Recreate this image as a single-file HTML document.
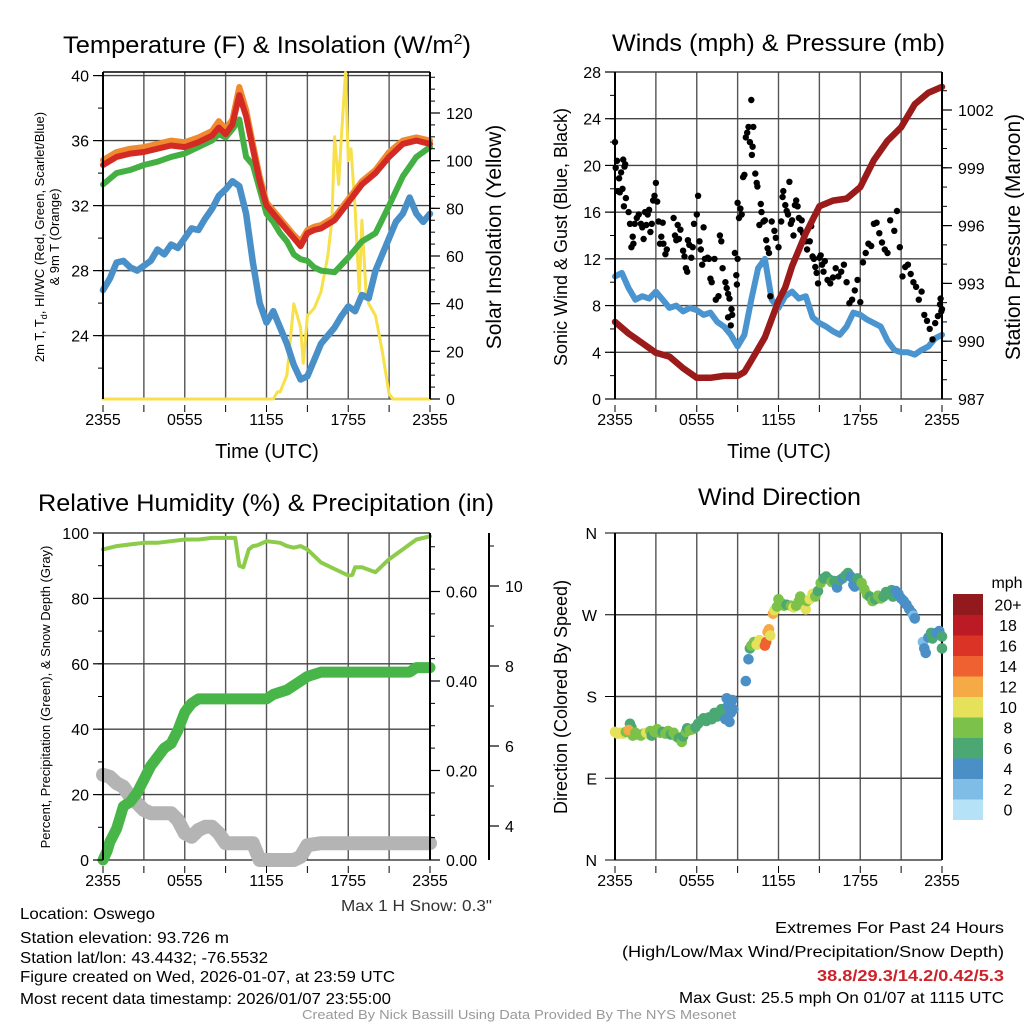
<!DOCTYPE html>
<html><head><meta charset="utf-8"><style>
html,body{margin:0;padding:0;background:#fff}
svg{display:block;font-family:"Liberation Sans",sans-serif}
</style></head><body>
<svg id="s" width="1024" height="1024" viewBox="0 0 1024 1024" xmlns="http://www.w3.org/2000/svg">
<rect width="1024" height="1024" fill="#fff"/>
<g id="g"></g>
<g font-size="24" fill="#000">
<text x="63" y="53" textLength="408" lengthAdjust="spacingAndGlyphs">Temperature (F) &amp; Insolation (W/m<tspan dy="-9" font-size="15">2</tspan><tspan dy="9">)</tspan></text>
<text x="612" y="51" textLength="333" lengthAdjust="spacingAndGlyphs">Winds (mph) &amp; Pressure (mb)</text>
<text x="38" y="511" textLength="456" lengthAdjust="spacingAndGlyphs">Relative Humidity (%) &amp; Precipitation (in)</text>
<text x="698" y="505" textLength="163" lengthAdjust="spacingAndGlyphs">Wind Direction</text>
</g>
<g fill="#000">
<text x="267" y="458" font-size="20" text-anchor="middle">Time (UTC)</text>
<text x="779" y="458" font-size="20" text-anchor="middle">Time (UTC)</text>
<text transform="translate(44,237) rotate(-90)" font-size="13" text-anchor="middle">2m T, T<tspan font-size="9" dy="3">d</tspan><tspan dy="-3">, HI/WC (Red, Green, Scarlet/Blue)</tspan></text>
<text transform="translate(59,237) rotate(-90)" font-size="13" text-anchor="middle">&amp; 9m T (Orange)</text>
<text transform="translate(501,237) rotate(-90)" font-size="21" text-anchor="middle">Solar Insolation (Yellow)</text>
<text transform="translate(567,237) rotate(-90)" font-size="18" text-anchor="middle">Sonic Wind &amp; Gust (Blue, Black)</text>
<text transform="translate(1020,237) rotate(-90)" font-size="21" text-anchor="middle">Station Pressure (Maroon)</text>
<text transform="translate(50,697) rotate(-90)" font-size="13" text-anchor="middle">Percent, Precipitation (Green), &amp; Snow Depth (Gray)</text>
<text transform="translate(567,697) rotate(-90)" font-size="18" text-anchor="middle">Direction (Colored By Speed)</text>
</g>
<g font-size="16" fill="#000">
<text x="341" y="911" textLength="151" lengthAdjust="spacingAndGlyphs" fill="#333">Max 1 H Snow: 0.3"</text>
<text x="20" y="919" textLength="135" lengthAdjust="spacingAndGlyphs">Location: Oswego</text>
<text x="20" y="943" textLength="209" lengthAdjust="spacingAndGlyphs">Station elevation: 93.726 m</text>
<text x="20" y="963" textLength="248" lengthAdjust="spacingAndGlyphs">Station lat/lon: 43.4432; -76.5532</text>
<text x="20" y="982" textLength="375" lengthAdjust="spacingAndGlyphs">Figure created on Wed, 2026-01-07, at 23:59 UTC</text>
<text x="20" y="1004" textLength="371" lengthAdjust="spacingAndGlyphs">Most recent data timestamp: 2026/01/07 23:55:00</text>
<text x="775" y="933" textLength="229" lengthAdjust="spacingAndGlyphs">Extremes For Past 24 Hours</text>
<text x="622" y="957" textLength="382" lengthAdjust="spacingAndGlyphs">(High/Low/Max Wind/Precipitation/Snow Depth)</text>
<text x="817" y="981" textLength="187" lengthAdjust="spacingAndGlyphs" fill="#cc2229" font-weight="bold">38.8/29.3/14.2/0.42/5.3</text>
<text x="679" y="1003" textLength="325" lengthAdjust="spacingAndGlyphs">Max Gust: 25.5 mph On 01/07 at 1115 UTC</text>
<text x="302" y="1019" textLength="434" lengthAdjust="spacingAndGlyphs" font-size="13" fill="#999">Created By Nick Bassill Using Data Provided By The NYS Mesonet</text>
</g>
</svg>
<script>
// ---- data ----
const timeLabels = ["2355","0555","1155","1755","2355"];
const tempH = [0,1,2,3,4,5,6,7,8,8.5,9,9.5,10,10.5,11,11.5,12,12.5,13,13.5,14,14.5,15,15.5,16,17,18,19,20,21,22,23,24];
const tempT = [34.5,35.0,35.2,35.3,35.5,35.7,35.6,35.9,36.3,36.8,36.4,37,38.8,37.5,35.5,33.5,32.0,31.5,31.0,30.5,30.0,29.5,30.3,30.5,30.6,31.1,32.2,33.3,34.0,35.0,35.8,36.0,35.8];
const temp9m = [34.8,35.3,35.5,35.6,35.8,36.0,35.9,36.2,36.6,37.2,36.7,37.3,39.3,37.9,35.8,33.8,32.2,31.7,31.2,30.7,30.2,29.8,30.5,30.7,30.8,31.3,32.4,33.5,34.2,35.3,36.0,36.2,36.0];
const tempTd = [33.3,34.0,34.2,34.5,34.7,35.0,35.2,35.6,36.0,36.4,36.2,36.7,37.3,35.0,34.5,33.0,31.5,31.0,30.3,29.8,29.0,28.7,28.6,28.2,28.0,27.9,28.8,29.8,30.3,32.0,33.8,35.0,35.6];
const wcH = [0,0.5,1,1.5,2,2.5,3,3.5,4,4.5,5,5.5,6,6.5,7,7.5,8,8.5,9,9.5,10,10.5,11,11.5,12,12.5,13,13.5,14,14.5,15,15.5,16,16.5,17,17.5,18,18.5,19,19.5,20,20.5,21,21.5,22,22.5,23,23.5,24];
const wcV = [26.8,27.5,28.5,28.6,28.2,28.0,28.3,28.6,29.3,29.0,29.6,29.4,30.0,30.6,30.5,31.2,31.8,32.6,33.0,33.5,33.2,31.5,28.5,26.0,24.8,25.5,24.5,23.5,22.2,21.3,21.5,22.5,23.5,24.0,24.5,25.2,25.8,25.5,26.5,26.3,28.0,29.0,30.0,31.0,31.5,32.5,31.5,31.0,31.5];
const solH = [0,12.5,12.8,13,13.5,14,14.5,14.7,15,15.5,16,16.5,16.8,17,17.3,17.5,17.8,18,18.2,18.5,18.8,19,19.3,19.5,20,20.5,21,21.3,24];
const solV = [0,0,3,3,10,40,30,15,35,38,45,60,75,110,90,110,137,100,105,80,45,75,45,40,35,20,2,0,0];
const tempTicks = [24,28,32,36,40];
const solTicks = [0,20,40,60,80,100,120];

const windH = [0,0.5,1,1.5,2,2.5,3,3.5,4,4.5,5,5.5,6,6.5,7,7.5,8,8.5,9,9.5,10,10.5,11,11.5,12,12.5,13,13.5,14,14.5,15,15.5,16,16.5,17,17.5,18,18.5,19,19.5,20,20.5,21,21.5,22,22.5,23,23.5,24];
const windV = [10.5,10.8,9.5,8.5,8.8,8.6,9.2,8.5,7.8,8.0,7.5,7.8,7.6,7.2,7.4,6.6,6.2,5.5,4.5,5.5,8.5,11.2,12.0,8.5,7.8,8.8,9.2,8.6,8.8,7.0,6.5,6.2,5.8,5.5,6.2,7.4,7.2,6.8,6.5,6.2,5.0,4.2,4.0,4.0,3.8,4.2,4.5,5.2,5.5];
const gustH = [0,0.05,0.15,0.2,0.3,0.35,0.45,0.55,0.6,0.7,0.75,0.65,0.8,1.0,1.1,1.2,1.3,1.35,1.45,1.6,1.75,1.9,2.0,2.1,2.2,2.3,2.4,2.5,2.6,2.7,2.8,2.9,3.0,3.1,3.2,3.3,3.4,3.5,3.55,3.7,3.8,4.3,4.4,4.5,4.6,4.7,4.8,5.0,5.1,5.2,5.3,5.35,5.45,5.6,5.7,5.8,6.0,6.1,6.2,6.3,6.4,6.5,6.6,6.8,6.9,7.0,7.1,7.3,7.4,7.6,7.7,7.8,7.9,8.1,8.2,8.3,8.4,8.3,8.5,8.55,8.6,8.8,9.0,8.9,8.95,9.0,9.1,9.2,9.3,9.4,9.5,9.6,9.7,9.8,9.9,10.0,10.05,10.1,10.15,10.3,10.4,10.45,10.6,10.7,10.75,10.9,11.0,11.1,11.2,11.3,11.4,11.5,11.7,11.8,12.0,12.2,12.3,12.35,12.5,12.6,12.7,12.8,12.9,13.0,13.1,13.2,13.3,13.4,13.5,13.6,13.7,13.8,14.0,14.1,14.3,14.4,14.5,14.6,14.7,14.8,14.9,15.0,15.1,15.2,15.3,15.4,15.6,15.8,16.0,16.2,16.4,16.6,16.8,17.0,17.2,17.4,17.6,17.8,18.0,18.2,18.4,18.6,18.8,19.0,19.2,19.4,19.6,19.8,20.0,20.2,20.5,20.7,20.9,21.1,21.3,21.5,21.7,21.9,22.1,22.3,22.5,22.7,22.9,23.1,23.3,23.5,23.7,23.85,23.95,24.0,23.9];
const gustV = [22,19.8,20.4,17.8,18.9,17.7,19.4,18,20.5,19.9,20.1,16.5,17.2,16,15,13,13.9,13.3,15,15.5,15.8,15,14.7,13.7,16,14.9,15.8,16.2,14.3,15,17,17.4,18.5,16.9,15.2,13.3,13.9,15.1,13.3,12.4,12.8,15.5,14,13.6,14.9,13.7,14.5,12.7,12.2,11.2,10.9,13.6,13.2,12.1,13,15,15.8,17.4,13.5,12.8,11.5,14.7,12,12.1,12,10.3,10,12,8.5,8.8,14,13.5,11.2,10,9.5,9,8.6,7.0,6.3,7.7,7.2,12.5,12,10.6,9.8,16.8,15.5,16.3,15.8,19,19.2,22.4,22.8,23.3,22,25.6,20.9,21.6,23.3,19.3,18.5,18.2,14.9,16.7,16,15.2,15.3,13.6,12.9,12.5,8.8,15.2,14.4,13.8,13,15.2,17.3,17.8,16.6,16.1,15.8,18.6,15,15.3,14,16.6,17,16.5,15.5,14.5,15.3,14.2,13.5,12.8,13.5,14.8,12.2,12,11.3,10.8,9.9,12.1,12.3,11.5,10.9,11.8,10.2,9.9,10.4,11.2,10.5,10.9,11.5,10.0,8.2,8.5,9.3,10.2,8.3,11.7,12.5,13.3,13.1,15,15.1,14.2,13.4,12.8,12.5,15.3,14.4,16.1,13,10.5,11.3,11.5,10.7,10,9.6,8.5,9.2,7.2,6.7,6.0,5.1,6.5,7.1,8.1,7.5,7.7,8.6,8.9,6.1,7,9.2,10.9,11.6,12.6,9,8.4,6.5];
const presH = [0,1,2,3,4,5,6,7,8,9,9.5,10,11,12,12.5,13,14,15,16,17,18,19,20,21,22,23,24];
const presV = [991.0,990.4,989.9,989.4,989.2,988.6,988.1,988.1,988.2,988.2,988.4,989.0,990.2,992.1,992.8,993.9,995.6,997.0,997.3,997.4,998.0,999.4,1000.4,1001.1,1002.3,1002.9,1003.2];
const windTicks = [0,4,8,12,16,20,24,28];
const presTicks = [987,990,993,996,999,1002];

const rhH = [0,1,2,3,4,5,6,7,8,9,9.7,10,10.3,10.7,11,11.3,12,13,13.5,14,14.5,15,16,17,18,18.3,18.5,19,20,20.5,21,22,23,24];
const rhV = [95,96,96.5,97,97,97.5,98,98,98.5,98.5,98.5,90,89.5,95,96,96.2,97.5,97,96,95.5,96,95,91,89,87,87.2,89.5,89.5,88,90,92,95,98,99];
const pcpH = [0,0.3,0.5,1,1.3,1.5,2,2.5,3,3.5,4,4.5,5,5.5,6,6.5,7,8,9,11,12,12.5,13.5,14,15,16,22,22.5,23,24];
const pcpV = [0,0.02,0.04,0.07,0.10,0.12,0.13,0.15,0.18,0.21,0.23,0.25,0.26,0.29,0.33,0.35,0.36,0.36,0.36,0.36,0.36,0.37,0.38,0.39,0.41,0.42,0.42,0.42,0.43,0.43];
const snowH = [0,0.5,1,1.5,2,2.5,3,3.5,4,5,5.5,6,6.5,7,7.5,8,8.5,9,10,11,11.5,12,14,14.5,15,16,24];
const snowV = [5.28,5.23,5.07,4.98,4.73,4.57,4.4,4.32,4.32,4.32,4.15,3.82,3.73,3.9,3.98,3.98,3.82,3.57,3.57,3.57,3.15,3.15,3.15,3.23,3.52,3.57,3.57];
const rhTicks = [0,20,40,60,80,100];
const pcpTicks = [0,0.2,0.4,0.6];
const snowTicks = [4,6,8,10];

const dirPts = [[0,141,10],[0.2,139,10],[0.4,140,10],[0.6,139,10],[0.8,141,9],[1.0,142,8],[1.1,150,6],[1.2,146,6],[1.3,137,8],[1.0,143,13],[1.5,140,8],[1.7,138,8],[1.9,137,8],[2.1,139,8],[2.3,140,10],[2.5,138,10],[2.6,142,8],[2.7,137,6],[2.9,141,8],[3.1,144,8],[3.3,140,8],[3.5,141,6],[3.7,139,8],[3.9,142,8],[4.1,138,6],[4.3,140,8],[4.5,136,8],[4.7,134,6],[4.9,130,8],[5.0,136,6],[5.2,141,8],[5.3,145,6],[5.5,143,8],[5.7,144,8],[5.9,146,6],[6.1,150,6],[6.3,153,6],[6.5,156,6],[6.7,153,6],[6.9,157,6],[7.1,155,6],[7.3,162,6],[7.5,158,6],[7.7,160,6],[7.8,166,6],[8.0,158,6],[8.1,155,4],[8.2,178,4],[8.3,170,4],[8.4,152,4],[8.5,162,4],[8.6,176,4],[8.7,166,4],[9.6,197,4],[9.8,221,4],[9.9,233,6],[10.0,236,8],[10.2,240,8],[10.4,237,10],[10.6,242,10],[10.8,238,10],[11.0,236,14],[11.1,240,14],[11.2,251,12],[11.3,254,12],[11.4,247,10],[11.6,271,12],[11.7,275,10],[11.9,279,8],[12.0,287,8],[12.2,283,8],[12.4,280,8],[12.6,281,6],[12.9,280,8],[13.1,278,10],[13.3,280,8],[13.5,285,8],[13.6,290,8],[13.8,281,8],[14.0,276,10],[14.1,285,8],[14.3,287,10],[14.5,293,10],[14.7,290,8],[14.9,296,6],[15.1,305,8],[15.3,310,6],[15.5,312,6],[15.7,309,6],[15.9,306,8],[16.1,307,6],[16.3,300,4],[16.5,308,6],[16.7,310,4],[16.9,313,6],[17.1,316,6],[17.3,312,4],[17.5,303,4],[17.6,301,4],[17.8,310,6],[18.1,305,8],[18.3,298,8],[18.5,292,8],[18.7,290,6],[18.9,285,8],[19.1,287,6],[19.3,291,8],[19.5,288,8],[19.7,290,6],[19.9,295,6],[20.1,293,6],[20.3,297,6],[20.4,290,6],[20.6,296,4],[20.8,293,4],[21.0,288,4],[21.2,285,4],[21.4,281,4],[21.6,276,4],[21.8,272,4],[21.9,269,2],[22.0,266,4],[22.6,240,2],[22.7,233,4],[22.8,228,4],[23.0,245,4],[23.2,250,6],[23.3,244,6],[23.5,248,6],[23.6,250,4],[23.8,252,4],[24.0,246,6],[24.0,233,6]];
const dirLabels = ["N","E","S","W","N"];
const cbLabels = ["0","2","4","6","8","10","12","14","16","18","20+"];
const cbColors = ["#b6e2f7","#80bde6","#4a90c6","#4ba873","#7cc24a","#e6e15a","#f6aa45","#ef6130","#db3426","#bc1b25","#921a1c"];

// ---- helpers ----
const NS="http://www.w3.org/2000/svg";
const G=document.getElementById('g');
function mk(tag,attrs,parent){const e=document.createElementNS(NS,tag);for(const k in attrs)e.setAttribute(k,attrs[k]);(parent||G).appendChild(e);return e;}
function lin(d0,d1,r0,r1){return v=>r0+(v-d0)*(r1-r0)/(d1-d0);}
function pathFrom(hs,vs,xs,ys){let d='';for(let i=0;i<hs.length;i++){d+=(i?'L':'M')+xs(hs[i]).toFixed(1)+','+ys(vs[i]).toFixed(1);}return d;}

const X1=lin(0,24,103,430), X2=lin(0,24,615,942);
function grid(x0,x1,y0,y1,ys,ticks,xs){
  for(let h=0;h<=24;h+=3){const x=xs(h);
    const l=mk('line',{x1:x,x2:x,y1:y0,y2:y1,stroke:'#555','stroke-width':1.4});
    
    }
  ticks.forEach(t=>{const y=ys(t);
    const l=mk('line',{x1:x0,x2:x1,y1:y,y2:y,stroke:'#444','stroke-width':1.4});
    
    });
}
function axisY(x,y0,y1,ys,ticks,minorStep,lo,hi,side,fmt,name){
  const a=mk('line',{x1:x,x2:x,y1:y0,y2:y1,stroke:'#000','stroke-width':2});
  
  
  const dir=side==='left'?-1:1;
  for(let v=lo;v<=hi+1e-9;v+=minorStep){const y=ys(v);if(y<y0-1||y>y1+1)continue;
    const t=mk('line',{x1:x,x2:x+dir*5,y1:y,y2:y,stroke:'#000','stroke-width':1});
    
    }
  ticks.forEach(v=>{const y=ys(v);
    const t=mk('line',{x1:x,x2:x+dir*10,y1:y,y2:y,stroke:'#000','stroke-width':1.2});
    
    
    const tx=mk('text',{x:x+dir*(side==='left'?14:16),y:y+6,'font-size':16,'text-anchor':side==='left'?'end':'start'});
    tx.textContent=fmt(v);
    
    });
}
function xLabels(xs,y,fs){
  for(let h=0;h<=24;h+=3){const x=xs(h);
    const t=mk('line',{x1:x,x2:x,y1:y-20,y2:y-13,stroke:'#000','stroke-width':1});
    
    }
  timeLabels.forEach((s,i)=>{const t=mk('text',{x:xs(i*6),y:y,'font-size':fs,'text-anchor':'middle'});
    t.textContent=s;
    
    });
}
function line(hs,vs,xs,ys,color,w,name){
  const p=mk('path',{d:pathFrom(hs,vs,xs,ys),fill:'none',stroke:color,'stroke-width':w,'stroke-linecap':'round','stroke-linejoin':'round'});
  
  
}

// ---- panel 1 ----
const YT=lin(20.1,40,399,75.6), YS=lin(0,120,399,113);
grid(103,430,72,399,YT,tempTicks,X1);
mk('line',{x1:103,x2:430,y1:72,y2:72,stroke:'#000','stroke-width':1.4});
mk('line',{x1:103,x2:430,y1:399,y2:399,stroke:'#555','stroke-width':1.2});
line(solH,solV,X1,YS,'#f7e04a',3,'insolation-line');
line(wcH,wcV,X1,YT,'#4a90c8',6.5,'windchill-line');
line(tempH,tempTd,X1,YT,'#44b044',6,'dewpoint-line');
line(tempH,temp9m,X1,YT,'#f08a30',6,'temp-9m-line');
line(tempH,tempT,X1,YT,'#d42a24',6,'temp-2m-line');
axisY(103,72,399,YT,tempTicks,2,22,40,'left',v=>v,'temp-axis');
axisY(430,72,399,YS,solTicks,5,0,135,'right',v=>v,'insolation-axis');
xLabels(X1,425,16);

// ---- panel 2 ----
const YW=lin(0,28,399,72), YP=lin(987,1002,399,110);
grid(615,942,72,399,YW,windTicks,X2);
line(windH,windV,X2,YW,'#4a94d0',6,'sonic-wind-line');
gustH.forEach((h,i)=>{const c=mk('circle',{cx:X2(h).toFixed(1),cy:YW(gustV[i]).toFixed(1),r:3.2,fill:'#000'});
  
  });
line(presH,presV,X2,YP,'#9b1a1a',6.5,'pressure-line');
axisY(615,72,399,YW,windTicks,2,0,28,'left',v=>v,'wind-axis');
axisY(942,72,399,YP,presTicks,1,987,1003,'right',v=>v,'pressure-axis');
xLabels(X2,425,16);

// ---- panel 3 ----
const YR=lin(0,100,860,533), YPc=lin(0,0.4,860,681), YSn=lin(4,8,826,666);
grid(103,430,533,860,YR,rhTicks,X1);
line(snowH,snowV,X1,YSn,'#b4b4b4',14,'snow-depth-line');
line(pcpH,pcpV,X1,YPc,'#48b548',11,'precip-line');
line(rhH,rhV,X1,YR,'#8ccc4a',4,'rh-line');
axisY(103,533,860,YR,rhTicks,10,0,100,'left',v=>v,'rh-axis');
axisY(430,533,860,YPc,pcpTicks,0.05,0,0.7,'right',v=>v.toFixed(2),'precip-axis');
axisY(489,533,860,YSn,snowTicks,1,3,12,'right',v=>v,'snow-axis');
xLabels(X1,886,16);

// ---- panel 4 ----
const YD=lin(0,360,860,533);
grid(615,942,533,860,YD,[0,90,180,270,360],X2);
mk('line',{x1:615,x2:615,y1:533,y2:860,stroke:'#000','stroke-width':2});
mk('line',{x1:942,x2:942,y1:533,y2:860,stroke:'#000','stroke-width':2});
dirLabels.forEach((s,i)=>{const y=YD(i*90);
  const t=mk('line',{x1:605,x2:615,y1:y,y2:y,stroke:'#000'});
  
  
  const tx=mk('text',{x:597,y:y+6,'font-size':16,'text-anchor':'end'});tx.textContent=s;
  
  });
function spdColor(s){const i=Math.max(0,Math.min(10,Math.floor(s/2)));return cbColors[i];}
dirPts.forEach(p=>{const c=mk('circle',{cx:X2(p[0]).toFixed(1),cy:YD(p[1]).toFixed(1),r:5.3,fill:spdColor(p[2])});
  
  });
xLabels(X2,886,16);
// colorbar
const cbTop=594, cbH=20.5;
cbColors.forEach((c,i)=>{const y=cbTop+(10-i)*cbH;
  const r=mk('rect',{x:953,y:y,width:30,height:cbH+0.5,fill:c});
  
  
  const t=mk('text',{x:1008,y:y+cbH/2+6,'font-size':16,'text-anchor':'middle'});t.textContent=cbLabels[i];
  
  });
const mph=mk('text',{x:1007,y:588,'font-size':16,'text-anchor':'middle'});mph.textContent='mph';


</script>
</body></html>
